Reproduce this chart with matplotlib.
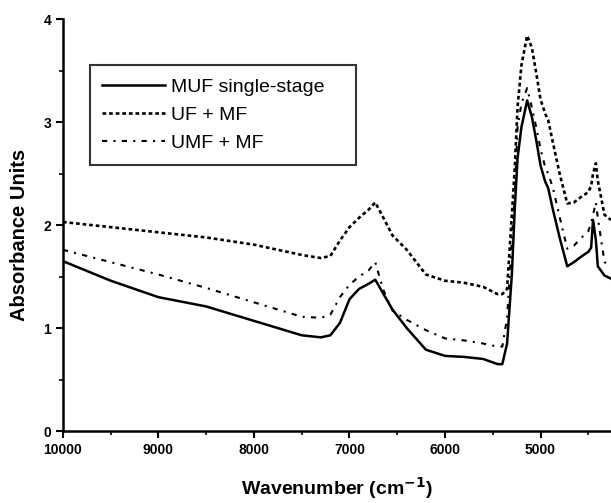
import matplotlib as mpl
import matplotlib.pyplot as plt
from matplotlib.ticker import MultipleLocator

# wavenumber grid (cm-1)
wavenumber = [10000, 9500, 9000, 8500, 8000, 7500, 7300, 7200, 7100, 7000,
              6900, 6800, 6730, 6650, 6550, 6400, 6200, 6000, 5800, 5600,
              5450, 5400, 5350, 5300, 5270, 5240, 5200, 5140, 5090, 5040,
              5000, 4950, 4920, 4870, 4800, 4720, 4650, 4580, 4500, 4470,
              4450, 4420, 4400, 4330, 4262]

muf_single = [1.65, 1.46, 1.30, 1.21, 1.07, 0.93, 0.91, 0.93, 1.05, 1.28,
              1.38, 1.43, 1.47, 1.34, 1.18, 1.00, 0.79, 0.73, 0.72, 0.70,
              0.65, 0.65, 0.85, 1.52, 2.15, 2.65, 2.95, 3.21, 3.05, 2.80,
              2.58, 2.42, 2.36, 2.15, 1.88, 1.60, 1.64, 1.69, 1.74, 1.78,
              2.05, 1.85, 1.60, 1.51, 1.48]

uf_mf = [2.03, 1.98, 1.93, 1.88, 1.81, 1.71, 1.68, 1.70, 1.85, 1.98,
         2.07, 2.15, 2.22, 2.08, 1.90, 1.76, 1.52, 1.46, 1.44, 1.40,
         1.33, 1.33, 1.38, 2.10, 2.55, 3.15, 3.55, 3.84, 3.72, 3.45,
         3.22, 3.08, 3.02, 2.80, 2.50, 2.21, 2.22, 2.27, 2.32, 2.38,
         2.50, 2.60, 2.43, 2.10, 2.05]

umf_mf = [1.76, 1.64, 1.52, 1.39, 1.25, 1.11, 1.10, 1.13, 1.30, 1.42,
          1.50, 1.56, 1.64, 1.38, 1.17, 1.08, 0.98, 0.90, 0.88, 0.85,
          0.82, 0.82, 1.10, 1.85, 2.30, 2.95, 3.18, 3.33, 3.14, 2.93,
          2.74, 2.56, 2.50, 2.36, 2.08, 1.77, 1.80, 1.87, 1.94, 2.02,
          2.10, 2.22, 2.07, 1.64, 1.61]

mpl.rcParams.update({
    "font.family": ["Liberation Sans", "DejaVu Sans"],
    "axes.linewidth": 1.8,
})

fig = plt.figure(figsize=(6.11, 5.03), dpi=100)
ax = fig.add_axes([0.103, 0.143, 0.897, 0.819])

ax.plot(wavenumber, muf_single, color="black", lw=1.8, ls="-", label="MUF single-stage")
ax.plot(wavenumber, uf_mf, color="black", lw=1.9, ls=(0, (1.4, 1.1)), label="UF + MF")
ax.plot(wavenumber, umf_mf, color="black", lw=1.5, ls=(0, (2.5, 3, 1, 3)), label="UMF + MF")

ax.set_xlim(10000, 4262)
ax.set_ylim(0, 4)
ax.set_xticks([10000, 9000, 8000, 7000, 6000, 5000])
ax.xaxis.set_minor_locator(MultipleLocator(500))
ax.set_yticks([0, 1, 2, 3, 4])
ax.yaxis.set_minor_locator(MultipleLocator(0.5))
ax.tick_params(which="major", direction="out", length=5, width=1.5, labelsize=10)
ax.tick_params(which="minor", direction="out", length=3, width=1.2)
for lab in ax.get_xticklabels() + ax.get_yticklabels():
    lab.set_fontweight("bold")

for side in ("top", "right"):
    ax.spines[side].set_visible(False)

ax.set_xlabel("Wavenumber (cm$^{\\mathbf{-1}}$)", fontsize=14, fontweight="bold", labelpad=13)
ax.set_ylabel("Absorbance Units", fontsize=14.5, fontweight="bold")
ax.yaxis.set_label_coords(-0.062, 0.476)

# legend box spans roughly x 90-355 px, y 65-164 px in the reference
leg = ax.legend(loc="upper left", bbox_to_anchor=(0.049, 0.888, 0.485, 0.0),
                mode="expand", fontsize=14, frameon=True, fancybox=False,
                edgecolor="black", borderaxespad=0, handlelength=3.2,
                handletextpad=0.35, labelspacing=0.55, borderpad=0.65)
leg.get_frame().set_linewidth(1.5)

fig.savefig("out.png", dpi=100)
